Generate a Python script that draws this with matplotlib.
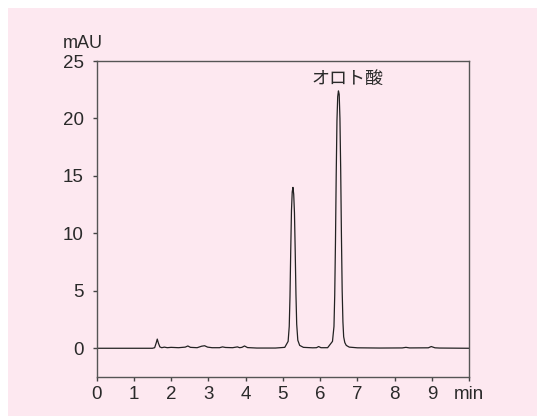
import matplotlib
matplotlib.use("Agg")
import matplotlib.pyplot as plt
from matplotlib.patches import Rectangle

plt.rcParams['font.family'] = ['Liberation Sans', 'Noto Sans CJK JP', 'DejaVu Sans']

# クロマトグラム (読み取り値)
t_min = [0.0, 1.50, 1.56, 1.60, 1.63, 1.66, 1.70, 1.75, 1.82, 1.90, 2.00, 2.20,
         2.38, 2.45, 2.52, 2.70, 2.82, 2.90, 2.98, 3.10, 3.30, 3.38, 3.46, 3.65,
         3.78, 3.84, 3.90, 3.97, 4.05, 4.30, 4.80, 5.05, 5.14, 5.17, 5.19, 5.21,
         5.23, 5.25, 5.27, 5.29, 5.31, 5.33, 5.35, 5.37, 5.40, 5.45, 5.55, 5.80,
         5.90, 5.96, 6.02, 6.20, 6.33, 6.37, 6.39, 6.41, 6.43, 6.45, 6.47, 6.49,
         6.51, 6.53, 6.55, 6.57, 6.59, 6.61, 6.63, 6.66, 6.70, 6.78, 7.00, 7.60,
         8.20, 8.30, 8.40, 8.90, 8.98, 9.08, 9.20, 10.0]
mau = [0.0, 0.0, 0.05, 0.45, 0.8, 0.45, 0.12, 0.05, 0.1, 0.05, 0.08, 0.05,
       0.1, 0.2, 0.08, 0.05, 0.18, 0.22, 0.1, 0.05, 0.05, 0.12, 0.07, 0.05,
       0.12, 0.05, 0.08, 0.2, 0.06, 0.02, 0.02, 0.08, 0.6, 1.9, 4.5, 8.5,
       12.0, 13.6, 14.0, 13.4, 11.8, 8.5, 4.7, 2.1, 0.7, 0.25, 0.08, 0.04,
       0.05, 0.15, 0.05, 0.05, 0.6, 1.9, 4.6, 9.2, 15.1, 19.8, 21.9, 22.4,
       22.1, 20.0, 15.6, 9.8, 5.0, 2.3, 1.0, 0.5, 0.25, 0.1, 0.04, 0.02,
       0.03, 0.08, 0.03, 0.04, 0.15, 0.04, 0.02, 0.0]

y_ticks = [0, 5, 10, 15, 20, 25]
x_ticks = [0, 1, 2, 3, 4, 5, 6, 7, 8, 9, 10]
x_labels = ['0', '1', '2', '3', '4', '5', '6', '7', '8', '9', 'min']

pink = '#fde8f0'
fig = plt.figure(figsize=(5.37, 4.16), dpi=100, facecolor='white')
fig.patches.append(Rectangle((8 / 537, 0), 1, 1 - 8 / 416, transform=fig.transFigure,
                             facecolor=pink, edgecolor='none', zorder=-10))

ax = fig.add_axes([96.5 / 537, 1 - 377 / 416, (469.3 - 96.5) / 537, (377 - 61) / 416])
ax.set_facecolor(pink)
ax.plot(t_min, mau, color='#222222', lw=0.9)

ax.set_xlim(0, 10)
ax.set_ylim(-2.5, 25)
ax.set_yticks(y_ticks)
ax.set_xticks(x_ticks)
ax.set_xticklabels(x_labels)
ax.tick_params(direction='out', length=3, width=1, colors='#444444',
               labelcolor='#2a2a2a', labelsize=13.5)
ax.tick_params(axis='y', pad=6)
ax.tick_params(axis='x', pad=3.5)
for s in ax.spines.values():
    s.set_color('#555555')
    s.set_linewidth(1)

ax.text(-0.036, 1.040, 'mAU', transform=ax.transAxes, ha='center', va='baseline',
        fontsize=13, color='#2a2a2a')
ax.text(6.73, 23.46, 'オロト酸', ha='center', va='center', fontsize=13,
        color='#2a2a2a', family=['Noto Sans CJK JP', 'DejaVu Sans'])

fig.savefig('out.png', dpi=100, facecolor=fig.get_facecolor())
